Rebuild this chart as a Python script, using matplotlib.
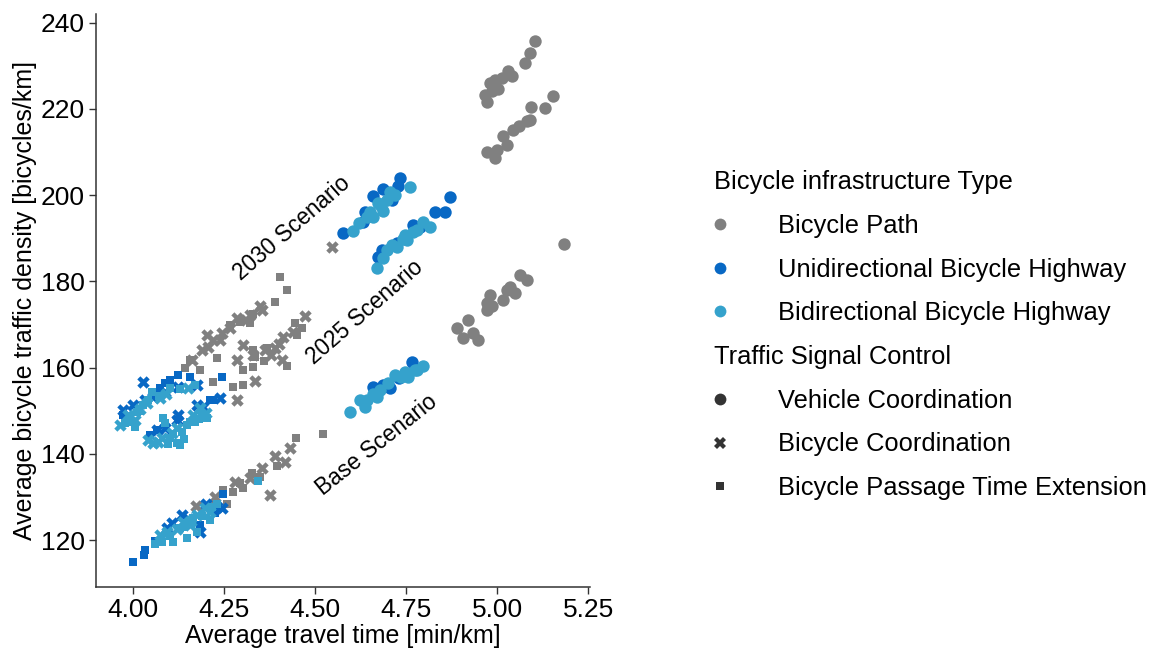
import matplotlib
matplotlib.use("Agg")
import matplotlib.pyplot as plt
import matplotlib.offsetbox as ob
from matplotlib.lines import Line2D

plt.rcParams['font.family'] = ['Liberation Sans', 'DejaVu Sans']

# ---------------- data ----------------
infra_types = ["Bicycle Path", "Unidirectional Bicycle Highway", "Bidirectional Bicycle Highway"]
controls = ["Vehicle Coordination", "Bicycle Coordination", "Bicycle Passage Time Extension"]
infra_colors = ["#808080", "#0868c4", "#35a2cc"]
control_markers = ["o", "X", (4, 0, 45)]

# Bicycle Path / Vehicle Coordination (2030, 2025, Base)
path_vehicle_x = [5.104, 5.091, 5.077, 5.030, 5.014, 4.995, 4.981, 4.986, 4.967, 4.973, 5.003, 5.041,
                  5.154, 5.132, 5.093, 5.091, 5.082, 5.044, 5.016, 5.027, 4.973, 4.995, 5.060, 5.000,
                  5.184, 5.063, 5.082, 5.036, 5.049, 5.027, 4.981, 5.016, 4.973, 4.986, 4.973, 4.920,
                  4.890, 4.934, 4.907, 4.948]
path_vehicle_y = [235.8, 233.0, 230.7, 228.8, 227.2, 226.6, 225.9, 224.2, 223.1, 221.5, 224.7, 227.7,
                  222.9, 220.3, 220.5, 217.3, 217.1, 215.0, 213.8, 211.5, 209.9, 208.7, 216.0, 210.5,
                  188.6, 181.4, 180.2, 178.6, 177.4, 177.9, 176.8, 175.6, 174.9, 174.4, 173.3, 171.0,
                  169.3, 168.0, 166.8, 166.3]

# Bicycle Path / Bicycle Coordination
path_bicycle_x = [4.349, 4.354, 4.321, 4.286, 4.245, 4.203, 4.239, 4.206, 4.190, 4.162, 4.266, 4.547,
                  4.220, 4.310,
                  4.473, 4.412, 4.440, 4.390, 4.363, 4.330, 4.409, 4.302, 4.286, 4.335, 4.286,
                  4.380, 4.400,
                  4.431, 4.390, 4.418, 4.354, 4.376, 4.280, 4.225, 4.173, 4.321]
path_bicycle_y = [174.4, 173.3, 172.1, 171.4, 168.0, 167.5, 166.3, 164.7, 164.0, 161.7, 169.2, 187.9,
                  166.5, 171.0,
                  171.9, 167.0, 168.2, 164.5, 164.0, 162.9, 161.7, 165.2, 161.7, 156.8, 152.4,
                  163.0, 165.5,
                  141.3, 139.5, 138.1, 136.7, 130.4, 133.4, 130.0, 127.9, 134.4]

# Bicycle Path / Bicycle Passage Time Extension
path_passage_x = [4.404, 4.423, 4.390, 4.266, 4.294, 4.321, 4.157, 4.143, 4.184, 4.231, 4.330,
                  4.445, 4.464, 4.451, 4.423, 4.335, 4.368, 4.330, 4.302, 4.330, 4.220, 4.275, 4.302,
                  4.360,
                  4.448, 4.522, 4.396, 4.327, 4.349, 4.294, 4.275, 4.247, 4.258, 4.302]
path_passage_y = [180.9, 178.1, 175.1, 169.8, 170.5, 170.3, 161.7, 159.8, 159.4, 162.2, 172.5,
                  170.3, 169.1, 167.5, 160.3, 162.4, 164.5, 164.0, 159.4, 160.1, 156.6, 155.4, 155.9,
                  161.5,
                  143.6, 144.6, 137.1, 135.5, 134.6, 133.2, 131.1, 131.6, 128.3, 132.0]

# Unidirectional / Vehicle Coordination
uni_vehicle_x = [4.734, 4.728, 4.687, 4.659, 4.637, 4.632, 4.577, 4.712,
                 4.871, 4.857, 4.830, 4.769, 4.684, 4.673, 4.788, 4.725,
                 4.706, 4.687, 4.766, 4.659, 4.730]
uni_vehicle_y = [203.9, 202.2, 201.5, 199.9, 196.0, 193.7, 191.1, 198.8,
                 199.5, 196.0, 196.0, 193.0, 187.2, 185.6, 192.5, 189.0,
                 155.2, 155.9, 161.2, 155.4, 157.5]

# Unidirectional / Bicycle Coordination
uni_bicycle_x = [4.027, 4.124, 4.000, 4.033, 4.055, 4.088, 4.176, 3.973,
                 4.239, 4.176, 4.192, 4.124, 4.088, 4.066, 4.121,
                 4.231, 4.245, 4.107, 4.135, 4.184, 4.093, 4.150, 4.200]
uni_bicycle_y = [156.6, 155.4, 151.3, 152.4, 153.1, 154.3, 155.9, 150.1,
                 152.9, 151.3, 150.8, 149.0, 145.9, 145.5, 147.8,
                 127.6, 127.4, 123.9, 125.8, 121.9, 122.8, 124.8, 128.3]

# Unidirectional / Bicycle Passage Time Extension
uni_passage_x = [4.124, 4.157, 4.102, 4.074, 4.088, 3.973, 4.245,
                 4.220, 4.212, 4.066, 4.047,
                 4.247, 4.000, 4.033, 4.030, 4.060, 4.225, 4.184]
uni_passage_y = [158.2, 157.8, 157.1, 155.2, 156.4, 149.0, 157.8,
                 152.4, 152.4, 145.5, 144.3,
                 130.7, 114.9, 117.7, 116.5, 119.8, 126.3, 123.5]

# Bidirectional / Vehicle Coordination
bi_vehicle_x = [4.761, 4.706, 4.698, 4.673, 4.651, 4.643, 4.687, 4.604, 4.659, 4.620, 4.680, 4.720,
                4.797, 4.816, 4.747, 4.753, 4.725, 4.698, 4.687, 4.670, 4.769, 4.710, 4.780, 4.740,
                4.797, 4.775, 4.747, 4.720, 4.755, 4.679, 4.670, 4.643, 4.624, 4.637, 4.596,
                4.660, 4.700, 4.735, 4.780]
bi_vehicle_y = [201.8, 200.6, 198.8, 198.1, 196.0, 194.9, 196.4, 191.6, 194.9, 193.5, 197.5, 200.0,
                193.7, 192.5, 190.7, 189.5, 187.9, 187.2, 185.3, 183.2, 191.4, 188.5, 192.0, 189.8,
                160.3, 159.4, 158.9, 158.2, 157.8, 154.7, 153.1, 152.4, 152.4, 150.8, 149.6,
                154.0, 156.5, 157.9, 159.5]

# Bidirectional / Bicycle Coordination
bi_bicycle_x = [3.964, 4.038, 3.986, 4.074, 4.005, 4.020, 4.090, 4.150,
                4.041, 4.055, 4.069, 4.107, 4.165, 4.184, 4.080, 4.120, 4.200,
                4.074, 4.093, 4.137, 4.176, 4.198, 4.157, 4.120, 4.160, 4.210]
bi_bicycle_y = [146.6, 151.7, 149.0, 152.9, 147.8, 150.5, 154.0, 155.3,
                143.2, 142.5, 142.7, 144.8, 149.0, 150.6, 143.8, 146.0, 149.5,
                121.2, 121.9, 124.2, 125.8, 127.4, 123.5, 122.5, 124.5, 126.5]

# Bidirectional / Bicycle Passage Time Extension
bi_passage_x = [4.052, 4.170, 4.102, 4.027, 4.011, 3.992, 4.005, 3.978,
                4.040, 4.070, 4.130, 4.015, 3.985,
                4.190, 4.203, 4.170, 4.148, 4.135, 4.102, 4.121, 4.129, 4.082, 4.088,
                4.110, 4.155, 4.180, 4.140, 4.095,
                4.343, 4.217, 4.212, 4.176, 4.148, 4.110, 4.080, 4.165, 4.129,
                4.100, 4.140, 4.190, 4.230, 4.060]
bi_passage_y = [154.3, 155.9, 155.2, 151.3, 149.6, 148.3, 146.2, 147.1,
                152.5, 153.5, 155.0, 150.0, 147.5,
                149.0, 148.3, 147.3, 146.6, 145.0, 143.6, 142.5, 142.0, 148.3, 147.1,
                144.5, 147.5, 148.0, 143.5, 142.3,
                133.7, 127.6, 124.6, 121.9, 120.5, 119.5, 119.5, 125.1, 122.8,
                121.0, 123.0, 125.5, 128.5, 119.0]

scenario_labels = ["2030 Scenario", "2025 Scenario", "Base Scenario"]
scenario_label_x = [4.437, 4.637, 4.670]
scenario_label_y = [192.4, 172.8, 142.0]
scenario_label_rot = [41, 41, 38.5]

xticks = [4.00, 4.25, 4.50, 4.75, 5.00, 5.25]
yticks = [120, 140, 160, 180, 200, 220, 240]

groups = [
    (path_vehicle_x, path_vehicle_y, 0, 0),
    (path_bicycle_x, path_bicycle_y, 0, 1),
    (path_passage_x, path_passage_y, 0, 2),
    (uni_vehicle_x, uni_vehicle_y, 1, 0),
    (uni_bicycle_x, uni_bicycle_y, 1, 1),
    (uni_passage_x, uni_passage_y, 1, 2),
    (bi_vehicle_x, bi_vehicle_y, 2, 0),
    (bi_bicycle_x, bi_bicycle_y, 2, 1),
    (bi_passage_x, bi_passage_y, 2, 2),
]

# ---------------- plot ----------------
TICK_FS = 19
LABEL_FS = 18
LEG_FS = 18.4
ANN_FS = 16.3
fig = plt.figure(figsize=(11.53, 6.51), dpi=100)
ax = fig.add_axes([0.0833, 0.098, 0.4287, 0.88])

S = 80
for gx, gy, ci, mi in groups:
    ax.scatter(gx, gy, s=S, c=infra_colors[ci], marker=control_markers[mi], linewidths=0)

for lab, lx, ly, rot in zip(scenario_labels, scenario_label_x, scenario_label_y, scenario_label_rot):
    ax.text(lx, ly, lab, rotation=rot, ha="center", va="center", fontsize=ANN_FS,
            rotation_mode="anchor")

ax.set_xlim(3.898, 5.256)
ax.set_ylim(109.1, 241.9)
ax.set_xticks(xticks)
ax.set_xticklabels([f"{v:.2f}" for v in xticks])
ax.set_yticks(yticks)
ax.tick_params(labelsize=TICK_FS, length=5, width=1, color="#333333", pad=3)
for sp in ["top", "right"]:
    ax.spines[sp].set_visible(False)
for sp in ["left", "bottom"]:
    ax.spines[sp].set_color("#333333")
    ax.spines[sp].set_linewidth(1.1)
ax.set_xlabel("Average travel time [min/km]", fontsize=LABEL_FS, labelpad=1)
ax.set_ylabel("Average bicycle traffic density [bicycles/km]", fontsize=LABEL_FS, labelpad=3)

# legend with subtitles
ms = S ** 0.5
handles, labels = [], []
handles.append(Line2D([], [], linestyle="none", marker="o", visible=False))
labels.append("Bicycle infrastructure Type")
for c, name in zip(infra_colors, infra_types):
    handles.append(Line2D([], [], linestyle="none", marker="o", markersize=ms * 0.95,
                          markerfacecolor=c, markeredgewidth=0))
    labels.append(name)
handles.append(Line2D([], [], linestyle="none", marker="o", visible=False))
labels.append("Traffic Signal Control")
for m, name in zip(control_markers, controls):
    handles.append(Line2D([], [], linestyle="none", marker=m, markersize=ms * 0.95,
                          markerfacecolor="#333333", markeredgewidth=0))
    labels.append(name)

leg = fig.legend(handles, labels, loc="center left", bbox_to_anchor=(0.619, 0.485),
                 frameon=False, fontsize=LEG_FS, handlelength=0.5, handletextpad=2.0,
                 labelspacing=0.77, borderpad=0, borderaxespad=0)

vp = leg.findobj(ob.VPacker)[0]
for hpack in vp.get_children():
    children = hpack.get_children()
    if len(children) != 2:
        continue
    draw_area, text_area = children
    arts = draw_area.get_children()
    if arts and not all(a.get_visible() for a in arts):
        draw_area.set_width(0)
        hpack.sep = 0

fig.savefig("out.png", dpi=100)
